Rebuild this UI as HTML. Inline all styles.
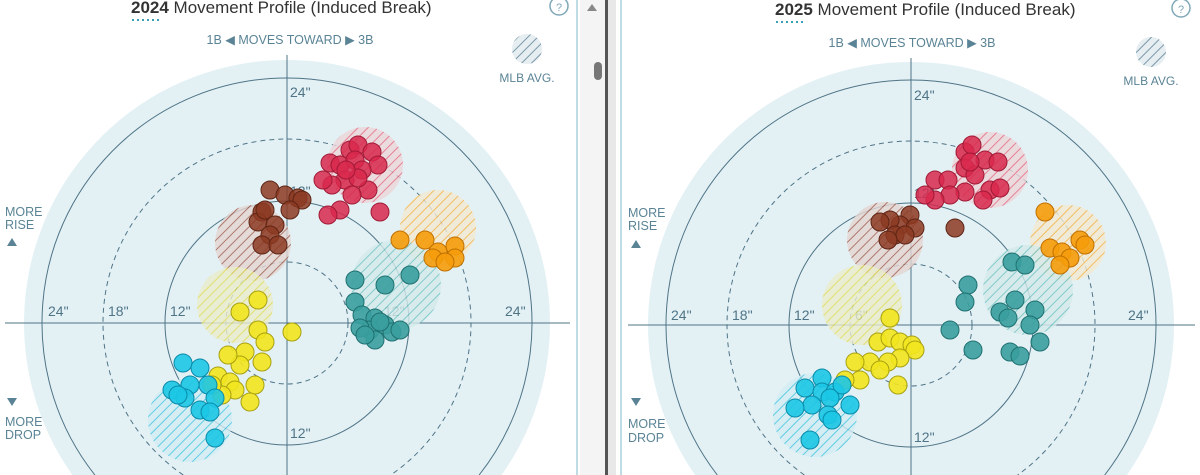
<!DOCTYPE html>
<html><head><meta charset="utf-8"><style>
html,body{margin:0;padding:0;background:#fff;width:1200px;height:475px;overflow:hidden}
svg{display:block}
svg text{font-family:"Liberation Sans",sans-serif}
</style></head><body>
<svg width="1200" height="475" viewBox="0 0 1200 475" xmlns="http://www.w3.org/2000/svg">
<defs>
<pattern id="hr" width="7" height="7" patternUnits="userSpaceOnUse" patternTransform="rotate(45)"><rect width="7" height="7" fill="#ecd6da"/><line x1="0" y1="0" x2="0" y2="7" stroke="#e8647c" stroke-width="2"/></pattern>
<pattern id="hb" width="7" height="7" patternUnits="userSpaceOnUse" patternTransform="rotate(45)"><rect width="7" height="7" fill="#e4d6d2"/><line x1="0" y1="0" x2="0" y2="7" stroke="#a05a4a" stroke-width="2"/></pattern>
<pattern id="ho" width="7" height="7" patternUnits="userSpaceOnUse" patternTransform="rotate(45)"><rect width="7" height="7" fill="#f3ead2"/><line x1="0" y1="0" x2="0" y2="7" stroke="#f5b040" stroke-width="2"/></pattern>
<pattern id="ht" width="7" height="7" patternUnits="userSpaceOnUse" patternTransform="rotate(45)"><rect width="7" height="7" fill="#d4eaea"/><line x1="0" y1="0" x2="0" y2="7" stroke="#6cc0c0" stroke-width="2"/></pattern>
<pattern id="hy" width="7" height="7" patternUnits="userSpaceOnUse" patternTransform="rotate(45)"><rect width="7" height="7" fill="#eaecca"/><line x1="0" y1="0" x2="0" y2="7" stroke="#e0dc50" stroke-width="2"/></pattern>
<pattern id="hc" width="7" height="7" patternUnits="userSpaceOnUse" patternTransform="rotate(45)"><rect width="7" height="7" fill="#d2ecf2"/><line x1="0" y1="0" x2="0" y2="7" stroke="#40c4e0" stroke-width="2"/></pattern>
<pattern id="hg" width="7" height="7" patternUnits="userSpaceOnUse" patternTransform="rotate(45)"><rect width="7" height="7" fill="#e6eef2"/><line x1="0" y1="0" x2="0" y2="7" stroke="#7a98a8" stroke-width="2"/></pattern>
</defs>

<line x1="577" y1="0" x2="577" y2="475" stroke="#a8d0dc" stroke-width="1.5"/>
<rect x="580" y="0" width="25" height="475" fill="#f4f4f4"/>
<polygon points="592,4 597,11 587,11" fill="#888"/>
<rect x="594" y="62" width="8" height="18" rx="4" fill="#777"/>
<rect x="605" y="0" width="3" height="475" fill="#555"/>
<rect x="608" y="0" width="8" height="475" fill="#e8e8e8"/>
<line x1="621" y1="0" x2="621" y2="475" stroke="#a8d0dc" stroke-width="1.5"/>

<g>
<text x="131" y="13" font-size="17" fill="#333"><tspan font-weight="bold">2024</tspan> Movement Profile (Induced Break)</text>
<line x1="132" y1="20" x2="162" y2="20" stroke="#3aa0b8" stroke-width="2" stroke-dasharray="2,3"/>
<circle cx="559" cy="6" r="9" fill="none" stroke="#7fa8b8" stroke-width="1.5"/><text x="559" y="11" font-size="11" fill="#7fa8b8" text-anchor="middle">?</text>
<text x="290" y="44" font-size="12.5" fill="#5a8496" text-anchor="middle">1B ◀  MOVES TOWARD  ▶ 3B</text>
<circle cx="527" cy="49" r="15" fill="url(#hg)"/>
<text x="527" y="82" font-size="12" fill="#5a8496" text-anchor="middle">MLB AVG.</text>
<text x="5" y="216" font-size="12.5" fill="#5a8496">MORE</text><text x="5" y="229" font-size="12.5" fill="#5a8496">RISE</text>
<polygon points="12,238 17,246 7,246" fill="#5a8496"/>
<polygon points="12,406 17,398 7,398" fill="#5a8496"/>
<text x="5" y="426" font-size="12.5" fill="#5a8496">MORE</text><text x="5" y="439" font-size="12.5" fill="#5a8496">DROP</text>
<path d="M72.4,475 A263,263 0 1 1 501.6,475 Z" fill="#e3f1f5"/>
<path d="M94.9,475 A245,245 0 1 1 479.1,475" fill="none" stroke="#4f7486" stroke-width="1"/>
<path d="M183.3,475 A184,184 0 1 1 390.7,475" fill="none" stroke="#4f7486" stroke-width="1" stroke-dasharray="5,4"/>
<circle cx="287" cy="323" r="122" fill="none" stroke="#4f7486" stroke-width="1"/>
<circle cx="287" cy="323" r="61" fill="none" stroke="#4f7486" stroke-width="1" stroke-dasharray="5,4"/>
<line x1="5" y1="323" x2="570" y2="323" stroke="#4f7486" stroke-width="1"/>
<line x1="287" y1="55" x2="287" y2="475" stroke="#4f7486" stroke-width="1"/>
<g font-size="14" fill="#4f7486">
<text x="290" y="97">24"</text><text x="290" y="196">12"</text><text x="290" y="438">12"</text>
<text x="48" y="316">24"</text><text x="108" y="316">18"</text><text x="170" y="316">12"</text><text x="232" y="316">6"</text>
<text x="384" y="316">12"</text><text x="505" y="316">24"</text>
</g>
<circle cx="365" cy="165" r="38" fill="url(#hr)" opacity="0.8"/>
<circle cx="253" cy="243" r="38" fill="url(#hb)" opacity="0.8"/>
<circle cx="438" cy="228" r="38" fill="url(#ho)" opacity="0.8"/>
<circle cx="396" cy="285" r="45" fill="url(#ht)" opacity="0.8"/>
<circle cx="235" cy="305" r="38" fill="url(#hy)" opacity="0.8"/>
<circle cx="190" cy="420" r="42" fill="url(#hc)" opacity="0.8"/>
<g fill="#d8284c" stroke="#a01a36" fill-opacity="0.85">
<circle cx="330" cy="163" r="9"/><circle cx="350" cy="150" r="9"/><circle cx="358" cy="145" r="9"/><circle cx="372" cy="152" r="9"/><circle cx="378" cy="165" r="9"/><circle cx="340" cy="165" r="9"/><circle cx="355" cy="160" r="9"/><circle cx="362" cy="170" r="9"/><circle cx="345" cy="180" r="9"/><circle cx="332" cy="185" r="9"/><circle cx="323" cy="180" r="9"/><circle cx="368" cy="190" r="9"/><circle cx="352" cy="195" r="9"/><circle cx="340" cy="210" r="9"/><circle cx="328" cy="215" r="9"/><circle cx="380" cy="212" r="9"/><circle cx="358" cy="178" r="9"/><circle cx="346" cy="170" r="9"/>
</g>
<g fill="#8c3a22" stroke="#5e2414" fill-opacity="0.85">
<circle cx="270" cy="190" r="9"/><circle cx="285" cy="195" r="9"/><circle cx="298" cy="198" r="9"/><circle cx="302" cy="200" r="9"/><circle cx="262" cy="212" r="9"/><circle cx="258" cy="222" r="9"/><circle cx="275" cy="225" r="9"/><circle cx="270" cy="235" r="9"/><circle cx="262" cy="245" r="9"/><circle cx="278" cy="245" r="9"/><circle cx="265" cy="210" r="9"/><circle cx="290" cy="210" r="9"/>
</g>
<g fill="#f59c0a" stroke="#c07000" fill-opacity="0.9">
<circle cx="400" cy="240" r="9"/><circle cx="425" cy="240" r="9"/><circle cx="438" cy="252" r="9"/><circle cx="455" cy="246" r="9"/><circle cx="455" cy="258" r="9"/><circle cx="433" cy="258" r="9"/><circle cx="445" cy="262" r="9"/>
</g>
<g fill="#3a9f9f" stroke="#1f7070" fill-opacity="0.9">
<circle cx="355" cy="280" r="9"/><circle cx="385" cy="285" r="9"/><circle cx="410" cy="275" r="9"/><circle cx="355" cy="302" r="9"/><circle cx="362" cy="315" r="9"/><circle cx="375" cy="318" r="9"/><circle cx="385" cy="325" r="9"/><circle cx="370" cy="330" r="9"/><circle cx="360" cy="328" r="9"/><circle cx="392" cy="332" r="9"/><circle cx="375" cy="340" r="9"/><circle cx="365" cy="335" r="9"/><circle cx="380" cy="322" r="9"/><circle cx="400" cy="330" r="9"/>
</g>
<g fill="#f2e61e" stroke="#a8a010" fill-opacity="0.9">
<circle cx="258" cy="300" r="9"/><circle cx="240" cy="312" r="9"/><circle cx="258" cy="330" r="9"/><circle cx="265" cy="342" r="9"/><circle cx="292" cy="332" r="9"/><circle cx="245" cy="352" r="9"/><circle cx="240" cy="365" r="9"/><circle cx="228" cy="355" r="9"/><circle cx="218" cy="376" r="9"/><circle cx="230" cy="382" r="9"/><circle cx="235" cy="390" r="9"/><circle cx="255" cy="385" r="9"/><circle cx="262" cy="362" r="9"/><circle cx="222" cy="395" r="9"/><circle cx="250" cy="402" r="9"/><circle cx="212" cy="385" r="9"/>
</g>
<g fill="#1cc6e6" stroke="#0a8aa8" fill-opacity="0.9">
<circle cx="183" cy="363" r="9"/><circle cx="200" cy="368" r="9"/><circle cx="190" cy="385" r="9"/><circle cx="208" cy="385" r="9"/><circle cx="172" cy="390" r="9"/><circle cx="185" cy="398" r="9"/><circle cx="215" cy="398" r="9"/><circle cx="200" cy="410" r="9"/><circle cx="210" cy="412" r="9"/><circle cx="215" cy="438" r="9"/><circle cx="178" cy="395" r="9"/>
</g>
</g>

<g>
<text x="775" y="15" font-size="17" fill="#333"><tspan font-weight="bold">2025</tspan> Movement Profile (Induced Break)</text>
<line x1="776" y1="22" x2="806" y2="22" stroke="#3aa0b8" stroke-width="2" stroke-dasharray="2,3"/>
<circle cx="1181" cy="8" r="9" fill="none" stroke="#7fa8b8" stroke-width="1.5"/><text x="1181" y="13" font-size="11" fill="#7fa8b8" text-anchor="middle">?</text>
<text x="912" y="47" font-size="12.5" fill="#5a8496" text-anchor="middle">1B ◀  MOVES TOWARD  ▶ 3B</text>
<circle cx="1151" cy="52" r="15" fill="url(#hg)"/>
<text x="1151" y="85" font-size="12" fill="#5a8496" text-anchor="middle">MLB AVG.</text>
<text x="628" y="217" font-size="12.5" fill="#5a8496">MORE</text><text x="628" y="230" font-size="12.5" fill="#5a8496">RISE</text>
<polygon points="636,240 641,248 631,248" fill="#5a8496"/>
<polygon points="636,406 641,398 631,398" fill="#5a8496"/>
<text x="628" y="428" font-size="12.5" fill="#5a8496">MORE</text><text x="628" y="442" font-size="12.5" fill="#5a8496">DROP</text>
<path d="M695,475 A263,263 0 1 1 1127,475 Z" fill="#e3f1f5"/>
<path d="M717.3,475 A245,245 0 1 1 1104.7,475" fill="none" stroke="#4f7486" stroke-width="1"/>
<path d="M804.4,475 A184,184 0 1 1 1017.6,475" fill="none" stroke="#4f7486" stroke-width="1" stroke-dasharray="5,4"/>
<circle cx="911" cy="325" r="122" fill="none" stroke="#4f7486" stroke-width="1"/>
<circle cx="911" cy="325" r="61" fill="none" stroke="#4f7486" stroke-width="1" stroke-dasharray="5,4"/>
<line x1="628" y1="325" x2="1195" y2="325" stroke="#4f7486" stroke-width="1"/>
<line x1="911" y1="58" x2="911" y2="475" stroke="#4f7486" stroke-width="1"/>
<g font-size="14" fill="#4f7486">
<text x="914" y="100">24"</text><text x="914" y="198">12"</text><text x="914" y="442">12"</text>
<text x="671" y="320">24"</text><text x="732" y="320">18"</text><text x="794" y="320">12"</text><text x="855" y="320">6"</text>
<text x="1128" y="320">24"</text>
</g>
<circle cx="990" cy="170" r="38" fill="url(#hr)" opacity="0.8"/>
<circle cx="885" cy="240" r="38" fill="url(#hb)" opacity="0.8"/>
<circle cx="1068" cy="243" r="38" fill="url(#ho)" opacity="0.8"/>
<circle cx="1028" cy="290" r="45" fill="url(#ht)" opacity="0.8"/>
<circle cx="862" cy="305" r="40" fill="url(#hy)" opacity="0.8"/>
<circle cx="815" cy="415" r="42" fill="url(#hc)" opacity="0.8"/>
<g fill="#d8284c" stroke="#a01a36" fill-opacity="0.85">
<circle cx="935" cy="180" r="9"/><circle cx="948" cy="180" r="9"/><circle cx="965" cy="152" r="9"/><circle cx="972" cy="145" r="9"/><circle cx="985" cy="160" r="9"/><circle cx="998" cy="162" r="9"/><circle cx="965" cy="168" r="9"/><circle cx="975" cy="175" r="9"/><circle cx="990" cy="190" r="9"/><circle cx="965" cy="192" r="9"/><circle cx="950" cy="195" r="9"/><circle cx="983" cy="200" r="9"/><circle cx="935" cy="200" r="9"/><circle cx="925" cy="195" r="9"/><circle cx="1000" cy="188" r="9"/><circle cx="970" cy="162" r="9"/>
</g>
<g fill="#8c3a22" stroke="#5e2414" fill-opacity="0.85">
<circle cx="910" cy="215" r="9"/><circle cx="900" cy="225" r="9"/><circle cx="890" cy="220" r="9"/><circle cx="880" cy="222" r="9"/><circle cx="915" cy="228" r="9"/><circle cx="895" cy="235" r="9"/><circle cx="905" cy="235" r="9"/><circle cx="955" cy="228" r="9"/><circle cx="888" cy="240" r="9"/>
</g>
<g fill="#f59c0a" stroke="#c07000" fill-opacity="0.9">
<circle cx="1045" cy="212" r="9"/><circle cx="1050" cy="248" r="9"/><circle cx="1062" cy="252" r="9"/><circle cx="1070" cy="258" r="9"/><circle cx="1080" cy="240" r="9"/><circle cx="1085" cy="245" r="9"/><circle cx="1060" cy="265" r="9"/>
</g>
<g fill="#3a9f9f" stroke="#1f7070" fill-opacity="0.9">
<circle cx="968" cy="285" r="9"/><circle cx="965" cy="302" r="9"/><circle cx="950" cy="330" r="9"/><circle cx="973" cy="350" r="9"/><circle cx="1012" cy="262" r="9"/><circle cx="1025" cy="265" r="9"/><circle cx="1015" cy="300" r="9"/><circle cx="1000" cy="312" r="9"/><circle cx="1008" cy="318" r="9"/><circle cx="1035" cy="310" r="9"/><circle cx="1040" cy="342" r="9"/><circle cx="1010" cy="352" r="9"/><circle cx="1020" cy="356" r="9"/><circle cx="1030" cy="325" r="9"/>
</g>
<g fill="#f2e61e" stroke="#a8a010" fill-opacity="0.9">
<circle cx="890" cy="318" r="9"/><circle cx="878" cy="342" r="9"/><circle cx="890" cy="338" r="9"/><circle cx="900" cy="342" r="9"/><circle cx="912" cy="345" r="9"/><circle cx="915" cy="350" r="9"/><circle cx="900" cy="358" r="9"/><circle cx="888" cy="362" r="9"/><circle cx="870" cy="362" r="9"/><circle cx="855" cy="362" r="9"/><circle cx="880" cy="370" r="9"/><circle cx="898" cy="385" r="9"/><circle cx="860" cy="380" r="9"/><circle cx="845" cy="380" r="9"/>
</g>
<g fill="#1cc6e6" stroke="#0a8aa8" fill-opacity="0.9">
<circle cx="822" cy="378" r="9"/><circle cx="805" cy="388" r="9"/><circle cx="822" cy="392" r="9"/><circle cx="835" cy="392" r="9"/><circle cx="842" cy="385" r="9"/><circle cx="850" cy="405" r="9"/><circle cx="830" cy="398" r="9"/><circle cx="812" cy="405" r="9"/><circle cx="795" cy="408" r="9"/><circle cx="828" cy="415" r="9"/><circle cx="832" cy="420" r="9"/><circle cx="810" cy="440" r="9"/>
</g>
</g>
</svg>
</body></html>
